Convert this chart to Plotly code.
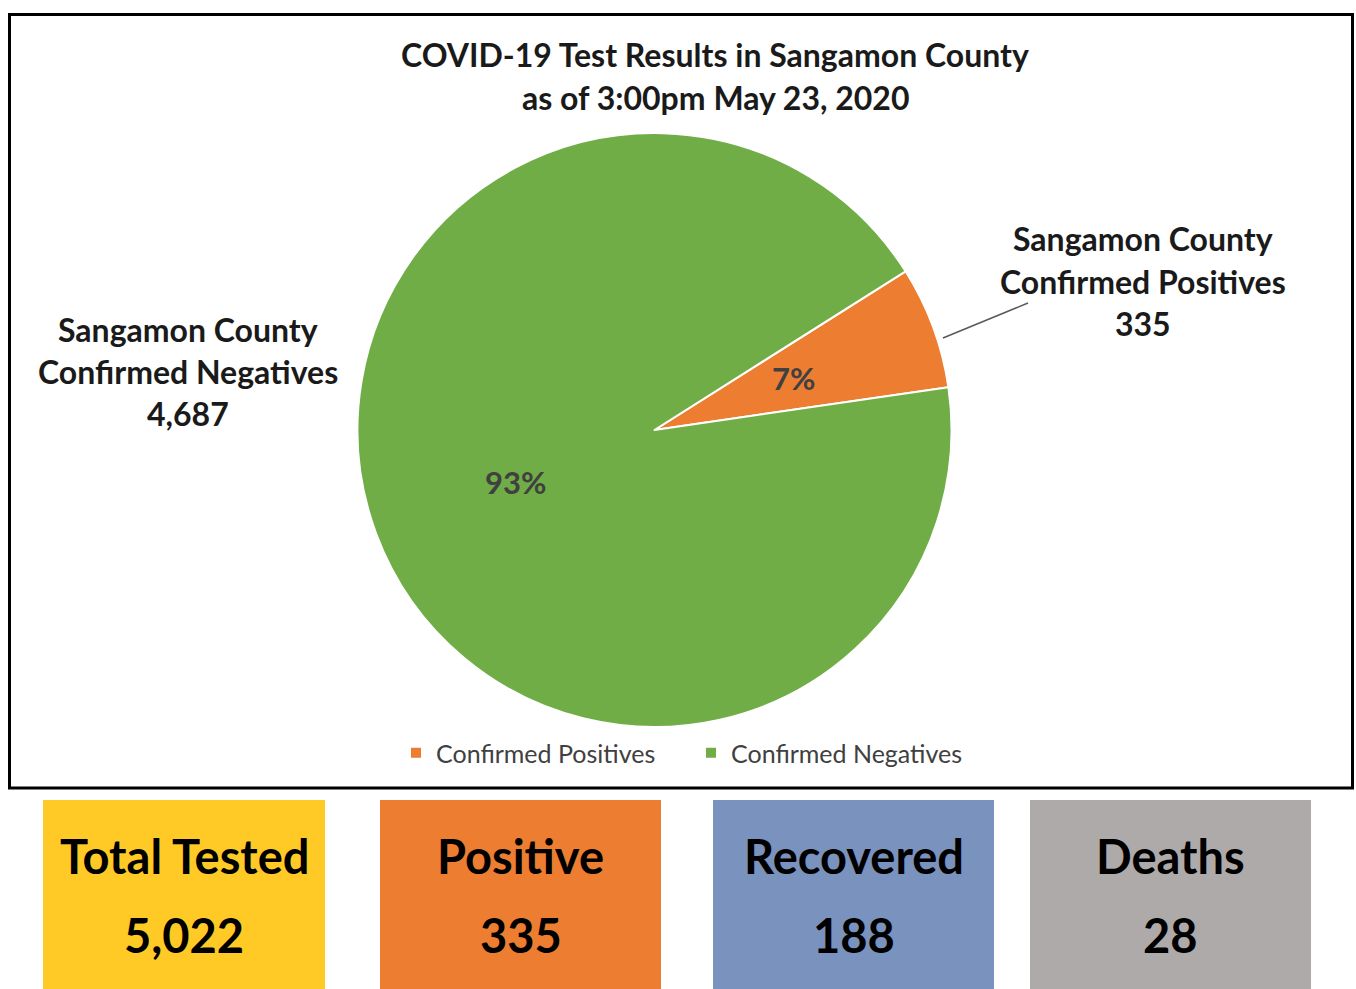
import math
import plotly.graph_objects as go

# ---- data ----
pie_labels = ["Confirmed Positives", "Confirmed Negatives"]
pie_values = [335, 4687]
pie_colors = ["#ED7D31", "#70AD47"]
side_label_prefix = "Sangamon County"

box_labels = ["Total Tested", "Positive", "Recovered", "Deaths"]
box_values = [5022, 335, 188, 28]
box_colors = ["#FFC926", "#ED7D31", "#7A92BE", "#AEAAAA"]

title_lines = ["COVID-19 Test Results in Sangamon County", "as of 3:00pm May 23, 2020"]

W, H = 1356, 989
FONT = "Lato"


def px(x):
    return x / W


def py(y):
    return 1 - y / H


fig = go.Figure()

cx, cy, r = 654.5, 430, 297
ROT = 57.7
fig.add_trace(go.Pie(
    labels=pie_labels,
    values=pie_values,
    marker=dict(colors=pie_colors, line=dict(color="white", width=2)),
    sort=False,
    direction="clockwise",
    rotation=ROT,
    textinfo="none",
    domain=dict(x=[px(cx - r), px(cx + r)], y=[py(cy + r), py(cy - r)]),
    hoverinfo="label+value+percent",
    showlegend=True,
))

shapes = []
annotations = []

# percentage labels placed on each slice's bisector at half radius
total = sum(pie_values)
start = ROT
for val in pie_values:
    frac = val / total
    mid = start + frac * 360 / 2  # clockwise from 12 o'clock
    start += frac * 360
    ang = math.radians(mid)
    lx = cx + 0.5 * r * math.sin(ang)
    ly = cy - 0.5 * r * math.cos(ang)
    annotations.append(dict(text=f"{frac:.0%}", x=px(lx), y=py(ly), xref="paper", yref="paper",
                            showarrow=False, xanchor="center", yanchor="middle",
                            font=dict(family=FONT, size=31, color="#404040", weight="bold")))

# outer border
shapes.append(dict(type="rect", xref="paper", yref="paper",
                   x0=px(9.5), x1=px(1352.5), y0=py(788), y1=py(14.5),
                   line=dict(color="black", width=3), fillcolor="rgba(0,0,0,0)"))

# title
for i, t in enumerate(title_lines):
    annotations.append(dict(text=t, x=px(715), y=py(55 + 43 * i), xref="paper", yref="paper",
                            showarrow=False, xanchor="center", yanchor="middle",
                            font=dict(family=FONT, size=32, color="#1a1a1a", weight="bold")))

# side data labels
label_pos = {"Confirmed Negatives": (188, 329), "Confirmed Positives": (1143, 239)}
for lab, val in zip(pie_labels, pie_values):
    x0, y0 = label_pos[lab]
    lines = [side_label_prefix, lab, f"{val:,}"]
    for i, t in enumerate(lines):
        annotations.append(dict(text=t, x=px(x0), y=py(y0 + 42 * i), xref="paper", yref="paper",
                                showarrow=False, xanchor="center", yanchor="middle",
                                font=dict(family=FONT, size=32, color="#1a1a1a", weight="bold")))

# leader line
shapes.append(dict(type="line", xref="paper", yref="paper",
                   x0=px(943), y0=py(338), x1=px(1028), y1=py(303),
                   line=dict(color="#595959", width=1.5)))

# bottom boxes
box_x = [(43, 325), (380, 661), (713, 994), (1030, 1311)]
for (x0, x1), lab, val, col in zip(box_x, box_labels, box_values, box_colors):
    shapes.append(dict(type="rect", xref="paper", yref="paper",
                       x0=px(x0), x1=px(x1), y0=py(995), y1=py(800),
                       line=dict(width=0), fillcolor=col, layer="below"))
    xc = (x0 + x1) / 2
    annotations.append(dict(text=lab, x=px(xc), y=py(856), xref="paper", yref="paper",
                            showarrow=False, xanchor="center", yanchor="middle",
                            font=dict(family=FONT, size=47, color="black", weight="bold")))
    annotations.append(dict(text=f"{val:,}", x=px(xc), y=py(935), xref="paper", yref="paper",
                            showarrow=False, xanchor="center", yanchor="middle",
                            font=dict(family=FONT, size=47, color="black", weight="bold")))

fig.update_layout(
    width=W, height=H,
    margin=dict(l=0, r=0, t=0, b=0),
    paper_bgcolor="white",
    plot_bgcolor="white",
    shapes=shapes,
    annotations=annotations,
    legend=dict(orientation="h", x=px(396), y=py(753), xanchor="left", yanchor="middle",
                font=dict(family=FONT, size=25, color="#404040"),
                itemwidth=30, entrywidth=250, traceorder="normal", bgcolor="rgba(0,0,0,0)"),
)

fig.write_html(
    "out.html",
    config={"displayModeBar": False},
    post_script="document.body.style.margin='0';document.body.style.overflow='hidden';",
)
